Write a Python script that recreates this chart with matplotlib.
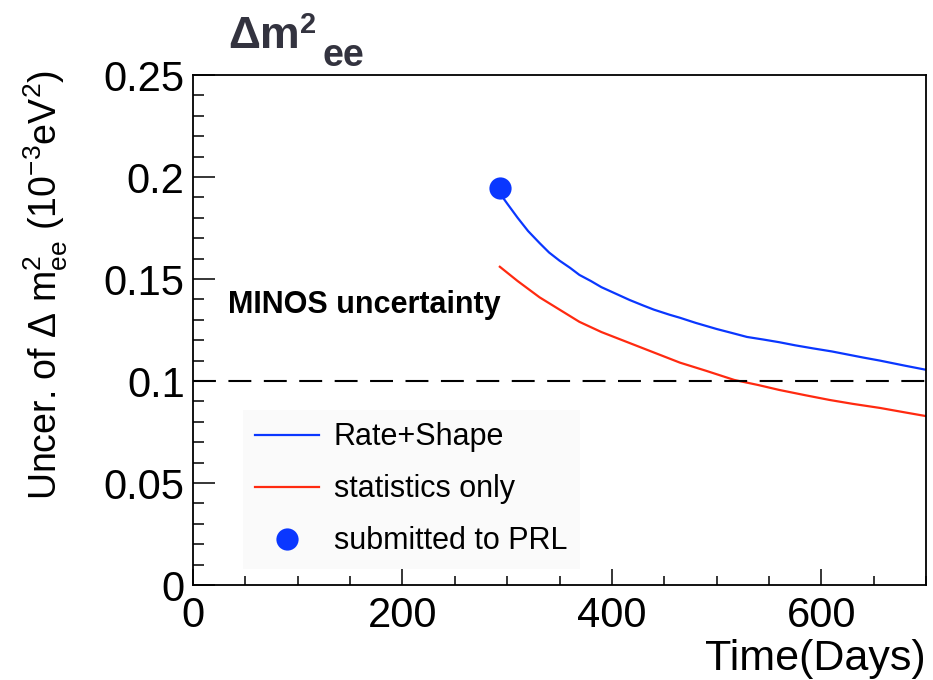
import matplotlib
matplotlib.use("Agg")
import matplotlib.pyplot as plt
from matplotlib.ticker import MultipleLocator
from matplotlib.lines import Line2D

plt.rcParams['font.family'] = ['Liberation Sans', 'DejaVu Sans']
plt.rcParams['mathtext.fontset'] = 'custom'
plt.rcParams['mathtext.rm'] = 'Liberation Sans'
plt.rcParams['mathtext.it'] = 'Liberation Sans'
plt.rcParams['mathtext.bf'] = 'Liberation Sans:bold'

# Rate+Shape (days, uncertainty in 1e-3 eV^2)
rs_days = [293, 300, 310, 320, 331, 340, 350, 360, 369, 380, 390, 405, 417, 430, 440,
           455, 465, 480, 500, 515, 529, 545, 560, 575, 592, 610, 625, 640, 656, 680, 700]
rs_unc = [0.192, 0.187, 0.180, 0.1735, 0.1676, 0.163, 0.159, 0.1555, 0.152, 0.149,
          0.146, 0.1425, 0.1397, 0.137, 0.135, 0.1325, 0.131, 0.1285, 0.1255, 0.1235,
          0.1216, 0.1203, 0.119, 0.1175, 0.116, 0.1145, 0.113, 0.1115, 0.110, 0.1075,
          0.1055]

# statistics only
st_days = [293, 310, 331, 350, 369, 390, 417, 440, 465, 490, 517, 540, 560, 585, 608,
           630, 656, 680, 700]
st_unc = [0.156, 0.149, 0.141, 0.135, 0.129, 0.124, 0.1186, 0.114, 0.109, 0.105,
          0.1005, 0.098, 0.0956, 0.093, 0.0907, 0.0888, 0.0868, 0.0846, 0.0828]

# submitted to PRL point
prl_day = [293]
prl_unc = [0.1946]

minos_level = 0.1

blue = '#0a37ff'
red = '#ff2a10'

fig = plt.figure(figsize=(9.33, 6.8), dpi=100)
ax = fig.add_axes([0.2069, 0.1397, 0.7856, 0.75])

ax.plot(rs_days, rs_unc, color=blue, lw=1.6)
ax.plot(st_days, st_unc, color=red, lw=1.6)
ax.plot(prl_day, prl_unc, 'o', color=blue, ms=16, mec='none')
ax.axhline(minos_level, color='black', lw=1.5, dashes=(11, 6))

ax.set_xlim(0, 700)
ax.set_ylim(0, 0.25)
ax.xaxis.set_major_locator(MultipleLocator(200))
ax.xaxis.set_minor_locator(MultipleLocator(50))
ax.yaxis.set_minor_locator(MultipleLocator(0.01))
ax.set_yticks([0, 0.05, 0.1, 0.15, 0.2, 0.25])
ax.set_yticklabels(['0', '0.05', '0.1', '0.15', '0.2', '0.25'])

ax.tick_params(axis='both', which='both', direction='in', top=False, right=False,
               labelsize=30)
ax.tick_params(axis='y', which='major', length=16, width=1.1, pad=6)
ax.tick_params(axis='y', which='minor', length=8, width=1.1)
ax.tick_params(axis='x', which='major', length=11.5, width=1.1, pad=8)
ax.tick_params(axis='x', which='minor', length=6.5, width=1.1)
for sp in ax.spines.values():
    sp.set_linewidth(1.3)

ax.set_xlabel('Time(Days)', fontsize=31, loc='right')
ax.xaxis.set_label_coords(1.0, -0.145)
ax.xaxis.label.set_va('center')
ax.set_ylabel(r'Uncer. of $\Delta$ m$^{2}_{ee}$ (10$^{-3}$eV$^{2}$)', fontsize=27, loc='top')
ax.yaxis.set_label_coords(-0.168, 1.01)

ax.text(0.048, 0.55, 'MINOS uncertainty', transform=ax.transAxes, fontsize=22,
        fontweight='bold', va='center', ha='left')

handles = [Line2D([], [], color=blue, lw=1.6),
           Line2D([], [], color=red, lw=1.6),
           Line2D([], [], marker='o', ls='none', color=blue, ms=16, mec='none')]
labels = ['Rate+Shape', 'statistics only', 'submitted to PRL']
ax.legend(handles, labels, loc='upper left', bbox_to_anchor=(0.068, 0.343),
          fontsize=22, frameon=True, facecolor='#fafafa', edgecolor='none',
          framealpha=1, fancybox=False, handlelength=2.1, handletextpad=0.48,
          labelspacing=0.72, borderpad=0.4, borderaxespad=0)

title_color = '#33333f'
fig.text(228 / 933, 1 - 48 / 680, 'Δm', fontsize=32, fontweight='bold',
         color=title_color, ha='left', va='baseline')
fig.text(300 / 933, 1 - 33 / 680, '2', fontsize=21, fontweight='bold',
         color=title_color, ha='left', va='baseline')
fig.text(322 / 933, 1 - 66 / 680, 'ee', fontsize=27, fontweight='bold',
         color=title_color, ha='left', va='baseline')

fig.savefig('out.png', dpi=100)
